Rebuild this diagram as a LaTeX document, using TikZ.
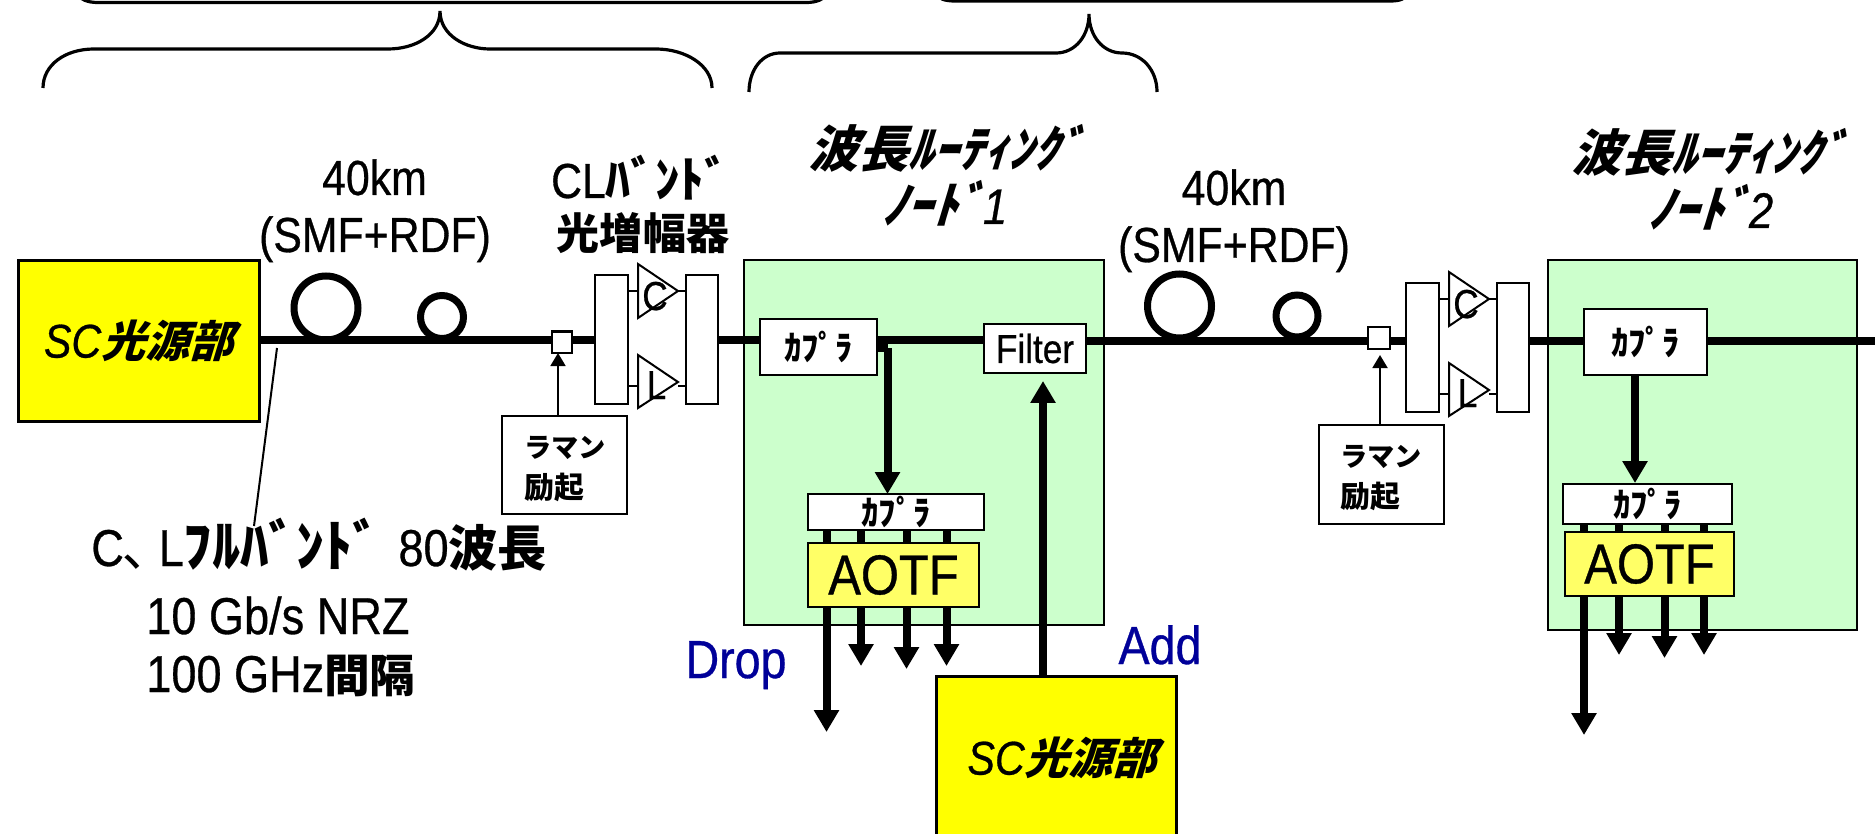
\documentclass[tikz,border=0pt]{standalone}
\usepackage{fontspec}
\setmainfont[FakeStretch=0.87,FakeBold=0.6]{Liberation Sans}
\newfontfamily\jpfont{Noto Sans CJK JP}
\newfontfamily\jpslant[FakeSlant=0.3]{Noto Sans CJK JP}
\usetikzlibrary{arrows.meta,calc}
\definecolor{SrcClr}{rgb}{1,1,0}
\definecolor{NodeClr}{rgb}{0.8,1,0.8}
\definecolor{AotfClr}{rgb}{1,1,0.4}
\definecolor{LabelClr}{rgb}{0,0,0.6}
\def\pxu{0.02cm}
\newcommand{\JpB}[1]{{\jpfont\bfseries #1}}
\newcommand{\JpI}[1]{{\jpslant\bfseries #1}}
\newcommand{\JpK}[1]{{\jpfont\bfseries\fontsize{32}{34}\selectfont #1}}
\newcommand{\JpS}[1]{{\jpfont\bfseries\fontsize{26}{28}\selectfont #1}}
\newcommand{\JpL}[1]{{\jpfont\bfseries\fontsize{28}{30}\selectfont #1}}
\tikzset{
  pxsize/.style 2 args={minimum width=#1*\pxu,minimum height=#2*\pxu},
  block/.style={draw=black,line width=2*\pxu,inner sep=0pt,outer sep=0pt},
  whitebox/.style={block,fill=white},
  srcbox/.style={block,fill=SrcClr,line width=3*\pxu},
  fiberline/.style={line width=7.5*\pxu},
  coil/.style={circle,draw=black,line width=7*\pxu,inner sep=0pt,outer sep=0pt},
  portline/.style={line width=8*\pxu},
  droparrow/.style={portline,-{Triangle[length=12.5pt,width=13.7pt]}},
  pumparrow/.style={line width=2*\pxu,-{Triangle[length=7.4pt,width=8.5pt]}},
  bracket/.style={line width=3.2*\pxu},
  txtmain/.style={anchor=base,inner sep=0pt,font=\fontsize{28}{30}\selectfont},
  txtinfo/.style={anchor=base west,inner sep=0pt,font=\fontsize{29.5}{30}\selectfont},
  txtblue/.style={anchor=base,inner sep=0pt,text=LabelClr,font=\fontsize{30.5}{32}\selectfont},
  txthead/.style={anchor=base,inner sep=0pt,font=\fontsize{28.5}{30}\selectfont},
  txtcpl/.style={font=\fontsize{19.5}{22}\selectfont},
  txtamp/.style={anchor=base,inner sep=0pt,font=\fontsize{23}{25}\selectfont},
  txtaotf/.style={font=\fontsize{32}{34}\selectfont},
  txtpump/.style={anchor=base west,inner sep=0pt,font=\fontsize{17}{20}\selectfont},
  txtpumpk/.style={anchor=base west,inner sep=0pt,font=\fontsize{15.5}{20}\selectfont},
  txtsrc/.style={font=\fontsize{25}{27}\selectfont},
}
% band amplifier: two couplers and two triangles
\newcommand{\AmpUnit}[3]{
\begin{scope}[shift={(#2,#3)}]
\node[whitebox,pxsize={33}{129}] (#1in) at (611,339.5) {};
\node[whitebox,pxsize={32}{129}] (#1out) at (702,339.5) {};
\coordinate (#1c) at (678,291);
\coordinate (#1l) at (678,382);
\draw[line width=2*\pxu] (#1in.east |- 0,291) -- (638,291) (#1c) -- (#1out.west |- #1c);
\draw[line width=2*\pxu] (#1in.east |- 0,386) -- (638,386) (678,386) -- (#1out.west |- 0,386);
\draw[line width=2*\pxu,fill=white] (638,264) -- (#1c) -- (638,318) -- cycle;
\draw[line width=2*\pxu,fill=white] (638,355) -- (#1l) -- (638,408) -- cycle;
\node[txtamp] (#1ctxt) at (655,310) {C};
\node[txtamp] (#1ltxt) at (656.5,399) {L};
\end{scope}
}

\begin{document}
\begin{tikzpicture}[x=0.02cm,y=-0.02cm]
\useasboundingbox (0,0) rectangle (1875,834);

% node areas first
\node[block,fill=NodeClr,pxsize={360}{365}] (areaA) at (924,442.5) {};
\node[block,fill=NodeClr,pxsize={309}{370}] (areaB) at (1702.5,445) {};

% braces
\draw[bracket] (76,-8) .. controls (80,0) and (88,2.5) .. (98,2.5) -- (806,2.5) .. controls (816,2.5) and (824,0) .. (828,-8);
\draw[bracket] (934,-8) .. controls (938,-1) and (945,1) .. (955,1) -- (1390,1) .. controls (1400,1) and (1406,-1) .. (1409,-8);
\draw[bracket] (43,88) .. controls (43,65) and (65,49) .. (94,49) -- (388,49) .. controls (415,49) and (440,35) .. (440,11) .. controls (440,35) and (465,49) .. (490,49) -- (656,49) .. controls (685,49) and (712,65) .. (712,88);
\draw[bracket] (749,92) .. controls (749,70) and (762,53) .. (780,53) -- (1056,53) .. controls (1075,53) and (1089,36) .. (1089,14) .. controls (1089,36) and (1103,53) .. (1122,53) .. controls (1142,53) and (1157,70) .. (1157,92);

% sources
\node[srcbox,pxsize={241}{160},txtsrc] (srcA) at (138.5,341) {{\fontsize{27}{29}\selectfont\itshape SC}\JpI{光源部}};
\node[srcbox,pxsize={240}{164},txtsrc] (srcB) at (1056,758) {\hspace*{0.24cm}{\fontsize{27}{29}\selectfont\itshape SC}\JpI{光源部}};

% amplifiers
\AmpUnit{ampA}{0}{0}
\AmpUnit{ampB}{811}{8}

% pump
\coordinate (fiberA) at (0,340);
\coordinate (fiberB) at (0,341);
\node[whitebox,pxsize={20}{21}] (tapA) at (562,342) {};
\node[whitebox,pxsize={22}{21}] (tapB) at (1379,338) {};
\node[whitebox,pxsize={125}{98}] (pumpA) at (564.5,465) {};
\node[whitebox,pxsize={125}{99}] (pumpB) at (1381.5,474.5) {};
\node[txtpumpk] (pumpAa) at (524,457) {\JpB{ラマン}};
\node[txtpump] (pumpAb) at (524,498) {\JpB{励起}};
\node[txtpumpk] (pumpBa) at (1340,466) {\JpB{ラマン}};
\node[txtpump] (pumpBb) at (1340,507) {\JpB{励起}};
\coordinate (pumpAtop) at (558,416);
\coordinate (pumpBtop) at (1380,425);
\coordinate (pumpAtip) at (558,353);
\coordinate (pumpBtip) at (1380,355);
\draw[pumparrow] (pumpAtop) -- (pumpAtip);
\draw[pumparrow] (pumpBtop) -- (pumpBtip);

% node blocks
\node[whitebox,pxsize={117}{56},txtcpl] (cplA) at (818.5,347) {\JpB{ｶﾌﾟﾗ}};
\node[whitebox,pxsize={102}{49},font=\fontsize{23}{25}\selectfont] (filterA) at (1035,348.5) {Filter};
\node[whitebox,pxsize={176}{36},txtcpl] (cplLowA) at (896,512) {\JpB{ｶﾌﾟﾗ}};
\node[block,fill=AotfClr,pxsize={171}{64},txtaotf] (aotfA) at (893.5,575) {\raisebox{-1.7pt}{AOTF}};
\node[whitebox,pxsize={123}{66},txtcpl] (cplB) at (1645.5,342) {\JpB{ｶﾌﾟﾗ}};
\node[whitebox,pxsize={169}{40},txtcpl] (cplLowB) at (1647.5,504) {\JpB{ｶﾌﾟﾗ}};
\node[block,fill=AotfClr,pxsize={169}{64},txtaotf] (aotfB) at (1649.5,564) {\raisebox{-2.3pt}{AOTF}};

% fiber
\coordinate (fiberEnd) at (1875,341);
\draw[fiberline] (srcA.east |- fiberA) -- (tapA.west |- fiberA);
\draw[fiberline] (tapA.east |- fiberA) -- (ampAin.west |- fiberA);
\draw[fiberline] (ampAout.east |- fiberA) -- (cplA.west |- fiberA);
\draw[fiberline] (cplA.east |- fiberA) -- (filterA.west |- fiberA);
\draw[fiberline] (filterA.east |- fiberB) -- (tapB.west |- fiberB);
\draw[fiberline] (tapB.east |- fiberB) -- (ampBin.west |- fiberB);
\draw[fiberline] (ampBout.east |- fiberB) -- (cplB.west |- fiberB);
\draw[fiberline] (cplB.east |- fiberEnd) -- (fiberEnd);
\node[coil,minimum size=64*\pxu] (coilAa) at (326,308) {};
\node[coil,minimum size=43*\pxu] (coilAb) at (442,317) {};
\node[coil,minimum size=64*\pxu] (coilBa) at (1179.5,306) {};
\node[coil,minimum size=42*\pxu] (coilBb) at (1297,316) {};

% drop paths
\coordinate (tapOutA) at (887.5,348);
\coordinate (tapTipA) at (887.5,494);
\draw[portline] (cplA.east |- tapOutA) -- (tapOutA);
\draw[droparrow] (tapOutA) -- (tapTipA);
\coordinate (tapTipB) at (1635,483);
\draw[droparrow] (cplB.south -| tapTipB) -- (tapTipB);

\coordinate (pAa) at (826.5,732);
\coordinate (pAb) at (861,666);
\coordinate (pAc) at (906.5,669);
\coordinate (pAd) at (946.5,666);
\draw[portline] (cplLowA.south -| pAa) -- (aotfA.north -| pAa) (cplLowA.south -| pAb) -- (aotfA.north -| pAb) (cplLowA.south -| pAc) -- (aotfA.north -| pAc) (cplLowA.south -| pAd) -- (aotfA.north -| pAd);
\draw[droparrow] (aotfA.south -| pAa) -- (pAa);
\draw[droparrow] (aotfA.south -| pAb) -- (pAb);
\draw[droparrow] (aotfA.south -| pAc) -- (pAc);
\draw[droparrow] (aotfA.south -| pAd) -- (pAd);

\coordinate (pBa) at (1584,735);
\coordinate (pBb) at (1619,655);
\coordinate (pBc) at (1664.5,658);
\coordinate (pBd) at (1704,655);
\draw[portline] (cplLowB.south -| pBa) -- (aotfB.north -| pBa) (cplLowB.south -| pBb) -- (aotfB.north -| pBb) (cplLowB.south -| pBc) -- (aotfB.north -| pBc) (cplLowB.south -| pBd) -- (aotfB.north -| pBd);
\draw[droparrow] (aotfB.south -| pBa) -- (pBa);
\draw[droparrow] (aotfB.south -| pBb) -- (pBb);
\draw[droparrow] (aotfB.south -| pBc) -- (pBc);
\draw[droparrow] (aotfB.south -| pBd) -- (pBd);

% add path
\coordinate (addTip) at (1043,381);
\draw[droparrow] (srcB.north -| addTip) -- (addTip);

% leader to the channel text
\coordinate (leadTop) at (277,348);
\coordinate (leadEnd) at (254,526);
\draw[line width=2*\pxu] (leadTop) -- (leadEnd);

% labels
\node[txtmain] (spanAa) at (374.5,195) {40km};
\node[txtmain] (spanAb) at (375,252) {(SMF+RDF)};
\node[txtmain] (spanBa) at (1234,205) {40km};
\node[txtmain] (spanBb) at (1234,262) {(SMF+RDF)};
\node[txtmain] (ampLabelA) at (640,198) {CL\JpB{ﾊﾞﾝﾄﾞ}};
\node[txtmain,font=\fontsize{24.5}{26}\selectfont] (ampLabelB) at (643,250) {\JpB{光増幅器}};
\node[txthead] (nodeAa) at (946,168) {\JpI{波長ﾙｰﾃｨﾝｸﾞ}};
\node[txthead] (nodeAb) at (945,224) {\JpI{ﾉｰﾄﾞ}{\itshape 1}};
\node[txthead] (nodeBa) at (1709,172) {\JpI{波長ﾙｰﾃｨﾝｸﾞ}};
\node[txthead] (nodeBb) at (1711,228) {\JpI{ﾉｰﾄﾞ}{\itshape 2}};
\node[txtblue] (dropLabel) at (736,678) {Drop};
\node[txtblue] (addLabel) at (1160,664) {Add};
\node[txtinfo] (infoA) at (91,566) {C{\jpfont ､}\hspace*{-2pt} L\JpK{ﾌﾙﾊﾞﾝﾄﾞ}\hspace*{3pt} 80\JpL{波長}};
\node[txtinfo] (infoB) at (146,634) {10 Gb/s NRZ};
\node[txtinfo] (infoC) at (146,692) {100 GHz\JpS{間隔}};

\end{tikzpicture}
\end{document}
